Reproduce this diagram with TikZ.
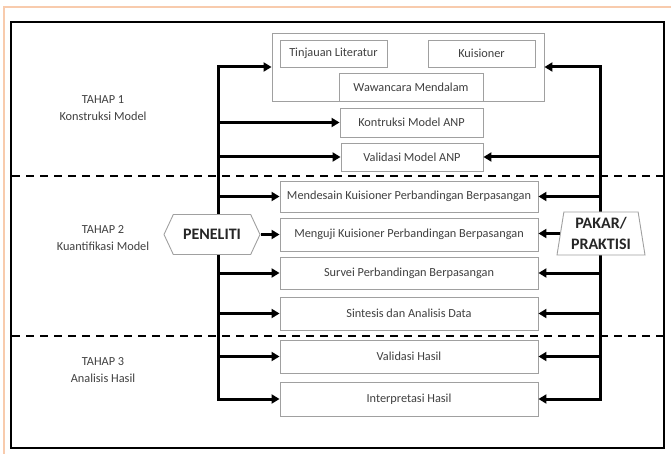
\documentclass[tikz,border=0pt]{standalone}
\usepackage{fontspec}
\setmainfont{Carlito}
\usetikzlibrary{arrows.meta,shapes.symbols,shapes.geometric}
\definecolor{txt}{HTML}{404040}
\definecolor{boxgray}{HTML}{A0A0A0}
\definecolor{peach}{HTML}{F8CBAD}
\begin{document}
\begin{tikzpicture}[x=1pt,y=-1pt,
  box/.style={draw=boxgray, line width=0.9pt, fill=white, text=txt,
    font=\fontsize{12.3}{15}\selectfont, inner sep=0pt},
  lbl/.style={text=txt, font=\fontsize{12.3}{17}\selectfont, align=center},
  arr/.style={line width=3pt, -{Triangle[length=8pt,width=9pt]}},
  arrs/.style={line width=3pt, {Triangle[length=8pt,width=9pt]}-{Triangle[length=8pt,width=9pt]}},
  sep/.style={line width=2.5pt, dash pattern=on 8pt off 6pt},
  actor/.style={draw=boxgray, line width=0.9pt, fill=white, text=black!85,
    font=\fontsize{16}{21}\selectfont\bfseries, align=center, inner sep=0pt}]
\useasboundingbox (0,0) rectangle (671,454);
% frames
\draw[peach, line width=2pt] (4,460) -- (4,7.5) -- (680,7.5);
\draw[line width=2.5pt] (11,22) rectangle (664,448);
% separators
\draw[sep] (12,176) -- (663,176);
\draw[sep] (12,336) -- (663,336);
% stage labels
\node[lbl] (t1) at (103,108.5) {TAHAP 1\\Konstruksi Model};
\node[lbl] (t2) at (103,238.5) {TAHAP 2\\Kuantifikasi Model};
\node[lbl] (t3) at (103,370.5) {TAHAP 3\\Analisis Hasil};
% top group
\node[box, minimum width=272, minimum height=68] (top) at (408,67) {};
\node[box, minimum width=107, minimum height=27] (tin) at (333.5,53.5) {Tinjauan Literatur};
\node[box, minimum width=107, minimum height=27] (kui) at (481.5,53.5) {Kuisioner};
\node[box, minimum width=144, minimum height=28] (waw) at (411,87) {Wawancara Mendalam};
% stage boxes
\node[box, minimum width=143, minimum height=29] (kon) at (411.5,122.5) {Kontruksi Model ANP};
\node[box, minimum width=142, minimum height=28] (val) at (412,157) {Validasi Model ANP};
\node[box, minimum width=258, minimum height=31] (mend) at (409,196.5) {Mendesain Kuisioner Perbandingan Berpasangan};
\node[box, minimum width=258, minimum height=33] (meng) at (409,234.5) {Menguji Kuisioner Perbandingan Berpasangan};
\node[box, minimum width=258, minimum height=32] (surv) at (409,273) {Survei Perbandingan Berpasangan};
\node[box, minimum width=258, minimum height=33] (sint) at (409,313.5) {Sintesis dan Analisis Data};
\node[box, minimum width=258, minimum height=33] (vhas) at (409,356.5) {Validasi Hasil};
\node[box, minimum width=258, minimum height=34] (intp) at (409,399) {Interpretasi Hasil};
% rails
\coordinate (Ltop) at (218,67);
\coordinate (Lbot) at (218,399);
\coordinate (Rtop) at (600,67);
\coordinate (Rbot) at (600,399);
\draw[arrs, line join=miter] (top.west) -- (Ltop) -- (Lbot) -- (intp.west);
\draw[arrs, line join=miter] (top.east) -- (Rtop) -- (Rbot) -- (intp.east);
\foreach \n in {kon,val,mend,surv,sint,vhas}
  \draw[arr] (Ltop |- \n.west) -- (\n.west);
\foreach \n in {val,mend,surv,sint,vhas}
  \draw[arr] (Rtop |- \n.east) -- (\n.east);
% actors
\node[actor, shape=signal, signal to=west and east, signal pointer angle=130,
  minimum width=96, minimum height=40] (pen) at (212,234.5) {PENELITI};
\node[actor, trapezium, trapezium left angle=78, trapezium right angle=78,
  trapezium stretches body=true, minimum width=88, minimum height=43] (pak) at (601,233.5) {PAKAR/\\PRAKTISI};
\draw[arr] (pen.east) -- (meng.west);
\draw[arr] (pak.west) -- (pak.west -| meng.east);
\end{tikzpicture}
\end{document}
